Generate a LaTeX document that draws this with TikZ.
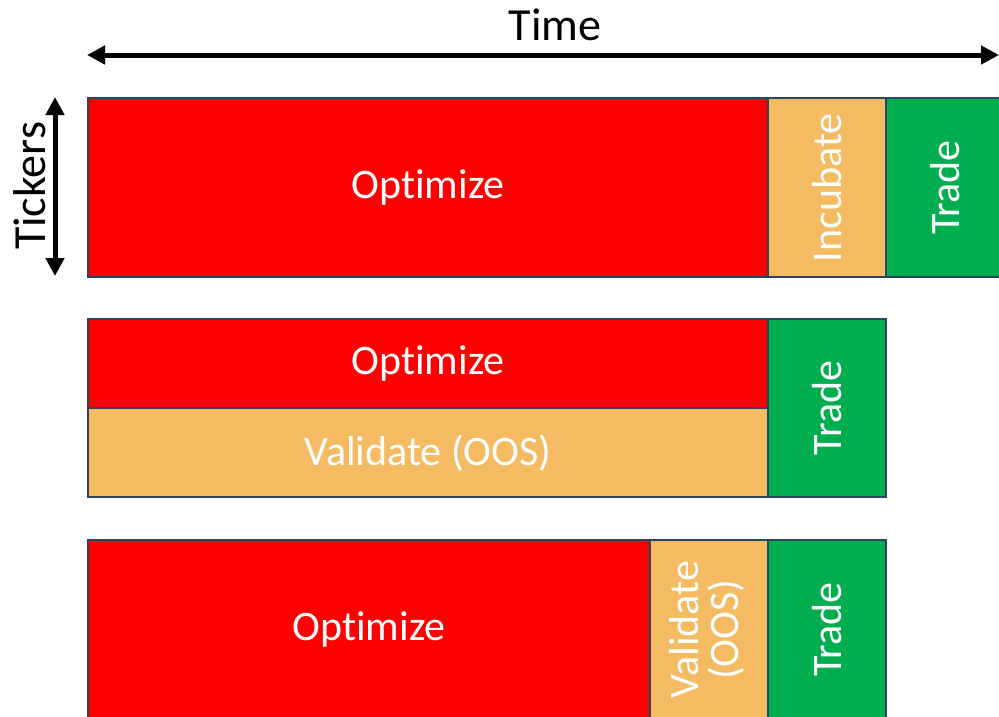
\documentclass[tikz,border=0pt]{standalone}
\usepackage{fontspec}
\setmainfont{Carlito}[RawFeature={-liga}]
\usetikzlibrary{arrows.meta}
\definecolor{optred}{HTML}{FF0000}
\definecolor{valorange}{HTML}{F4BB62}
\definecolor{tradegreen}{HTML}{00AE50}
\definecolor{edgeblue}{HTML}{2C4661}
\tikzset{
  box/.style={draw=edgeblue, line width=2.2pt, rectangle, inner sep=0pt, anchor=north west, text=white, font=\fontsize{42}{46}\selectfont},
  opt/.style={box, fill=optred},
  val/.style={box, fill=valorange},
  trd/.style={box, fill=tradegreen},
  bigarrow/.style={line width=5pt, {Triangle[length=18pt,width=18pt]}-{Triangle[length=18pt,width=18pt]}},
  axislabel/.style={font=\fontsize{46}{50}\selectfont, inner sep=0pt}
}
\begin{document}
\begin{tikzpicture}[x=1pt,y=-1pt]
\useasboundingbox (0,0) rectangle (999,716);
\clip (0,0) rectangle (999,716);
% row 1
\node[opt, minimum width=680pt, minimum height=179pt] (o1) at (87,97) {Optimize};
\node[val, minimum width=118pt, minimum height=179pt] (i1) at (767,97) {\rotatebox{90}{Incubate}};
\node[trd, minimum width=118pt, minimum height=179pt] (t1) at (885,97) {\rotatebox{90}{Trade}};
% row 2
\node[opt, minimum width=680pt, minimum height=89pt] (o2) at (87,318) {Optimize};
\node[val, minimum width=680pt, minimum height=89pt] (v2) at (87,407) {Validate (OOS)};
\node[trd, minimum width=118pt, minimum height=178pt] (t2) at (767,318) {\rotatebox{90}{Trade}};
% row 3
\node[opt, minimum width=562pt, minimum height=179pt] (o3) at (87,539) {Optimize};
\node[val, minimum width=118pt, minimum height=179pt] (v3) at (649,539) {\rotatebox{90}{\begin{tabular}{@{}c@{}}Validate\\[-6pt](OOS)\end{tabular}}};
\node[trd, minimum width=118pt, minimum height=179pt] (t3) at (767,539) {\rotatebox{90}{Trade}};
% axes
\coordinate (tl) at (87,55);
\coordinate (tr) at (999,55);
\draw[bigarrow] (tl) -- (tr);
\node[axislabel] (time) at (555,25) {Time};
\coordinate (kt) at (55,97);
\coordinate (kb) at (55,276);
\draw[bigarrow] (kt) -- (kb);
\node[axislabel, rotate=90] (tick) at (30,186) {Tickers};
\end{tikzpicture}
\end{document}
